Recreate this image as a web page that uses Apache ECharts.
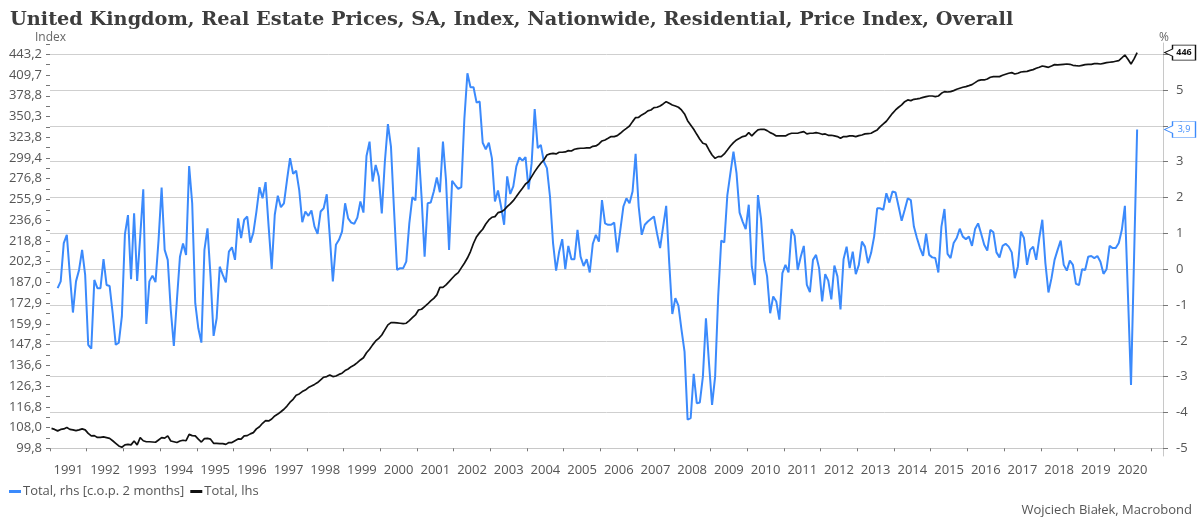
<!DOCTYPE html>
<html>
<head>
<meta charset="utf-8">
<script src="https://cdn.jsdelivr.net/npm/echarts@6/dist/echarts.min.js"></script>
<style>
  html, body { margin: 0; padding: 0; background: #fff; }
  #chart { width: 1201px; height: 517px; }
</style>
</head>
<body>
<div id="chart"></div>
<script>
// left axis (log scale) tick labels, bottom to top
const leftTicks = ['99,8', '108,0', '116,8', '126,3', '136,6', '147,8', '159,9', '172,9', '187,0', '202,3',
  '218,8', '236,6', '255,9', '276,8', '299,4', '323,8', '350,3', '378,8', '409,7', '443,2'];
const leftBottom = 99.8;
const leftTop = 443.2;
// right axis (%) tick labels
const rightTicks = [-5, -4, -3, -2, -1, 0, 1, 2, 3, 4, 5];
const years = [1991, 1992, 1993, 1994, 1995, 1996, 1997, 1998, 1999, 2000, 2001, 2002, 2003, 2004, 2005,
  2006, 2007, 2008, 2009, 2010, 2011, 2012, 2013, 2014, 2015, 2016, 2017, 2018, 2019, 2020];

// Total, lhs: monthly index from Jan 1991
const totalLhsStart = 0; // months after Jan 1991
const totalLhs = [
  107.6, 107.2, 106.6, 107.2, 107.4, 108.0, 107.2, 107.0, 106.7, 107.0, 107.4, 107.0,
  105.6, 104.6, 104.7, 104.0, 104.0, 104.2, 103.9, 103.6, 102.7, 101.7, 100.7, 100.2,
  101.1, 101.3, 101.1, 102.6, 101.1, 103.9, 102.7, 102.3, 102.3, 102.2, 102.1, 103.0,
  103.9, 103.7, 104.6, 102.6, 102.3, 102.0, 102.6, 102.9, 102.7, 105.2, 104.7, 104.6,
  103.3, 102.2, 103.5, 103.6, 103.3, 101.7, 101.7, 101.6, 101.6, 101.3, 102.0, 102.0,
  102.7, 103.4, 103.3, 104.6, 104.7, 105.4, 105.9, 107.4, 108.3, 109.7, 110.8, 110.7,
  111.5, 112.8, 113.6, 114.6, 115.7, 117.1, 118.8, 120.1, 122.0, 122.6, 123.7, 124.4,
  125.6, 126.3, 127.1, 128.0, 129.3, 130.6, 130.9, 131.7, 130.9, 131.2, 132.0, 132.6,
  133.9, 134.7, 135.9, 136.8, 138.0, 139.4, 140.6, 143.3, 145.2, 147.6, 149.8, 151.3,
  153.2, 156.2, 159.2, 160.6, 160.6, 160.4, 160.2, 160.0, 160.2, 161.8, 163.6, 165.3,
  168.4, 168.9, 170.6, 172.3, 174.3, 176.0, 178.3, 183.5, 183.5, 185.2, 187.5, 189.9,
  192.3, 194.0, 197.5, 201.0, 205.0, 210.1, 216.8, 222.3, 225.7, 228.6, 233.2, 236.8,
  239.2, 239.8, 243.4, 244.1, 245.9, 249.0, 251.6, 254.7, 258.7, 262.9, 266.9, 271.3,
  273.7, 279.0, 284.3, 289.0, 293.4, 297.1, 302.8, 304.0, 304.7, 304.0, 305.9, 305.9,
  306.3, 307.8, 307.4, 309.4, 310.2, 310.6, 310.6, 311.0, 311.0, 312.9, 313.3, 315.7,
  319.3, 320.5, 322.5, 324.6, 324.6, 325.8, 328.7, 332.0, 334.9, 337.9, 343.5, 348.8,
  349.2, 352.3, 354.5, 357.7, 359.0, 362.2, 362.7, 364.5, 367.3, 370.5, 368.2, 365.9,
  364.5, 362.7, 359.0, 353.6, 344.8, 339.2, 333.7, 327.4, 321.3, 316.5, 315.3, 308.6,
  302.8, 299.0, 300.9, 300.9, 304.0, 308.6, 313.3, 317.3, 320.5, 322.5, 324.6, 325.4,
  329.5, 325.4, 329.5, 332.9, 333.7, 333.7, 332.0, 329.5, 327.9, 325.4, 325.4, 325.4,
  325.4, 327.4, 328.7, 328.7, 328.7, 329.9, 330.8, 327.9, 328.7, 328.7, 329.5, 328.7,
  327.4, 327.9, 326.2, 326.2, 325.4, 324.6, 322.5, 324.6, 324.6, 325.4, 325.4, 324.6,
  325.8, 326.6, 327.9, 328.3, 328.7, 330.8, 332.9, 337.1, 340.5, 344.0, 349.2, 354.5,
  359.0, 362.7, 365.9, 370.5, 372.9, 371.9, 373.8, 374.3, 375.2, 376.6, 377.6, 378.5,
  378.5, 377.6, 378.5, 382.4, 384.8, 384.3, 384.8, 386.3, 388.2, 389.7, 391.2, 392.2,
  393.6, 395.1, 398.1, 401.2, 402.2, 402.2, 403.7, 406.3, 407.3, 407.3, 407.3, 409.3,
  410.9, 412.5, 413.5, 411.4, 412.5, 414.5, 415.0, 415.5, 417.1, 418.2, 420.3, 421.9,
  424.0, 423.0, 421.9, 424.0, 426.2, 425.7, 426.2, 426.7, 427.2, 426.7, 425.1, 424.5,
  424.0, 425.1, 426.2, 426.7, 426.7, 427.8, 427.8, 427.2, 428.3, 429.4, 430.0, 430.5,
  431.6, 432.7, 437.1, 442.0, 435.0, 427.2, 435.5, 446.0
];

// Total, rhs [c.o.p. 2 months]: % from Mar 1991
const totalRhsStart = 2;
const totalRhs = [
  -0.53, -0.34, 0.73, 0.96, -0.16, -1.21, -0.34, -0.02, 0.54, -0.16,
  -2.11, -2.22, -0.30, -0.53, -0.53, 0.28, -0.44, -0.47, -1.23, -2.11, -2.05, -1.32,
  0.98, 1.51, -0.28, 1.56, -0.33, 0.91, 2.23, -1.53, -0.34, -0.18, -0.36, 0.82,
  2.28, 0.54, 0.26, -1.14, -2.14, -0.86, 0.35, 0.72, 0.40, 2.88, 1.84, -0.95,
  -1.65, -2.05, 0.54, 1.14, -0.20, -1.86, -1.37, 0.07, -0.16, -0.37, 0.49, 0.61,
  0.26, 1.42, 0.87, 1.38, 1.47, 0.74, 1.02, 1.61, 2.29, 1.98, 2.43, 1.19,
  0.01, 1.52, 2.05, 1.73, 1.84, 2.49, 3.10, 2.66, 2.75, 2.21, 1.31, 1.61,
  1.49, 1.64, 1.19, 0.99, 1.61, 1.70, 2.09, 0.91, -0.34, 0.68, 0.82, 1.05,
  1.84, 1.42, 1.30, 1.27, 1.44, 1.89, 1.58, 3.16, 3.56, 2.45, 2.91, 2.59,
  1.56, 3.00, 4.05, 3.42, 1.66, -0.02, 0.03, 0.03, 0.21, 1.28, 2.01, 1.92,
  3.40, 2.03, 0.35, 1.84, 1.86, 2.17, 2.56, 2.15, 3.56, 2.49, 0.54, 2.47,
  2.35, 2.24, 2.29, 4.20, 5.47, 5.08, 5.08, 4.65, 4.68, 3.53, 3.35, 3.53,
  3.10, 1.89, 2.20, 1.75, 1.24, 2.59, 2.10, 2.31, 2.87, 3.12, 3.03, 3.13,
  2.23, 2.96, 4.47, 3.38, 3.47, 3.00, 2.82, 2.03, 0.73, -0.04, 0.49, 0.84,
  0.00, 0.65, 0.28, 0.28, 1.10, 0.35, 0.09, 0.28, -0.09, 0.71, 0.96, 0.77,
  1.93, 1.28, 1.24, 1.24, 1.30, 0.47, 1.10, 1.75, 1.98, 1.84, 2.17, 3.22,
  1.75, 0.96, 1.24, 1.33, 1.40, 1.47, 1.00, 0.59, 1.19, 1.77, 0.17, -1.25,
  -0.81, -1.02, -1.69, -2.30, -4.20, -4.16, -2.92, -3.74, -3.72, -3.00, -1.37, -2.62,
  -3.79, -3.00, -0.76, 0.80, 0.75, 2.07, 2.68, 3.28, 2.68, 1.58, 1.33, 1.12,
  1.80, 0.07, -0.44, 2.07, 1.42, 0.26, -0.20, -1.23, -0.76, -0.90, -1.41, -0.11,
  0.12, -0.09, 1.12, 0.93, -0.02, 0.35, 0.65, -0.44, -0.64, 0.26, 0.40, 0.03,
  -0.90, -0.14, -0.32, -0.84, 0.10, -0.20, -1.12, 0.28, 0.63, 0.03, 0.49, -0.14,
  0.12, 0.77, 0.63, 0.17, 0.45, 0.91, 1.70, 1.70, 1.66, 2.12, 1.86, 2.17,
  2.14, 1.75, 1.35, 1.66, 1.98, 1.93, 1.19, 0.87, 0.59, 0.37, 0.99, 0.40,
  0.33, 0.31, -0.09, 1.19, 1.68, 0.43, 0.31, 0.73, 0.87, 1.13, 0.91, 0.84,
  0.91, 0.65, 1.12, 1.28, 0.99, 0.68, 0.52, 1.10, 1.03, 0.47, 0.33, 0.65,
  0.71, 0.63, 0.47, -0.25, 0.07, 1.05, 0.87, 0.12, 0.54, 0.63, 0.26, 0.87,
  1.38, 0.17, -0.65, -0.25, 0.26, 0.54, 0.80, 0.12, -0.04, 0.24, 0.12, -0.41,
  -0.44, 0.00, -0.02, 0.35, 0.37, 0.31, 0.37, 0.21, -0.13, 0.00, 0.65, 0.59,
  0.59, 0.73, 1.10, 1.77, -0.72, -3.23, 0.33, 3.90
];

const blue = '#3b8afc';
const black = '#111111';
const labelFont = 'Open Sans';

// month index -> decimal year (points sit mid-month)
const monthX = (m) => years[0] + (m + 0.5) / 12;
// log axis: index value -> step count between left tick labels
const steps = leftTicks.length - 1;
const toU = (v) => Math.log(v / leftBottom) / Math.log(leftTop / leftBottom) * steps;

const rhsData = totalRhs.map((v, i) => [monthX(totalRhsStart + i), v]);
const lhsData = totalLhs.map((v, i) => [monthX(totalLhsStart + i), toU(v)]);

// right axis range, left axis shares the same pixel span
const rMin = -5.215, rMax = 6.315;
const scale = steps / (rightTicks.length);
const uMin = (rMin - rightTicks[0]) * scale;
const uMax = (rMax - rightTicks[0]) * scale;
const xMax = 2021.33;

const lastLhs = totalLhs[totalLhs.length - 1];
const lastRhs = totalRhs[totalRhs.length - 1];
const tagPath = 'path://M0,7.5L8,4L8,0L31,0L31,15L8,15L8,11Z';

const chart = echarts.init(document.getElementById('chart'));

const uTicks = [];
for (let u = 0; u <= steps + 0.5; u += 0.5) uTicks.push(u);

const option = {
  animation: false,
  backgroundColor: '#ffffff',
  title: {
    text: 'United Kingdom, Real Estate Prices, SA, Index, Nationwide, Residential, Price Index, Overall',
    left: 5,
    top: 5,
    textStyle: { fontFamily: 'DejaVu Serif', fontWeight: 'bold', fontSize: 19.3, color: '#3d3d3d' }
  },
  graphic: [
    { type: 'text', left: 35, top: 32, style: { text: 'Index', font: '12px "Open Sans"', fill: '#666' } },
    { type: 'text', left: 1159, top: 32, style: { text: '%', font: '12px "Open Sans"', fill: '#666' } },
    { type: 'text', right: 9, top: 504, style: { text: 'Wojciech Białek, Macrobond', font: '13px "Open Sans"', fill: '#555' } }
  ],
  legend: {
    left: 9,
    top: 485,
    padding: 0,
    itemGap: 6,
    itemWidth: 12,
    itemHeight: 3,
    icon: 'rect',
    textStyle: { fontFamily: labelFont, fontSize: 13, color: '#555', padding: [0, 0, 0, -3] },
    data: ['Total, rhs [c.o.p. 2 months]', 'Total, lhs']
  },
  grid: { left: 50, top: 43, width: 1113, height: 413 },
  xAxis: {
    type: 'value',
    min: years[0],
    max: xMax,
    axisLine: { show: true, lineStyle: { color: '#c8c8c8', width: 1 } },
    axisTick: {
      show: true, length: 3, lineStyle: { color: '#777' },
      customValues: years.concat([years[years.length - 1] + 1])
    },
    axisLabel: {
      customValues: years.map(y => y + 0.5),
      formatter: (v) => String(Math.floor(v)),
      fontFamily: labelFont, fontSize: 13, color: '#555', margin: 8
    },
    splitLine: { show: false }
  },
  yAxis: [
    {
      type: 'value',
      position: 'left',
      min: uMin,
      max: uMax,
      axisLine: { show: false },
      axisTick: { show: true, length: 4, lineStyle: { color: '#777' }, customValues: uTicks },
      axisLabel: {
        customValues: leftTicks.map((t, i) => i),
        formatter: (v) => leftTicks[Math.round(v)],
        fontFamily: labelFont, fontSize: 13, color: '#555', margin: 8
      },
      splitLine: { show: false }
    },
    {
      type: 'value',
      position: 'right',
      min: rMin,
      max: rMax,
      axisLine: { show: true, lineStyle: { color: '#c8c8c8', width: 1 } },
      axisTick: {
        show: true, length: 5, lineStyle: { color: '#777' },
        customValues: rightTicks.concat([rightTicks[rightTicks.length - 1] + 1])
      },
      axisLabel: {
        customValues: rightTicks,
        formatter: (v) => String(v),
        fontFamily: labelFont, fontSize: 13, color: '#555', margin: 13
      },
      splitLine: { show: true, lineStyle: { color: '#cfcfcf', width: 1 } }
    }
  ],
  series: [
    {
      name: 'Total, rhs [c.o.p. 2 months]',
      type: 'line',
      yAxisIndex: 1,
      data: rhsData,
      showSymbol: false,
      clip: false,
      lineStyle: { color: blue, width: 2 },
      itemStyle: { color: blue },
      markPoint: {
        silent: true,
        data: [{ coord: [xMax, lastRhs], value: lastRhs }],
        symbol: tagPath,
        symbolSize: [31, 16],
        symbolOffset: [17, 0],
        itemStyle: { color: '#fff', borderColor: blue, borderWidth: 1 },
        label: {
          show: true, position: 'inside', offset: [4, 0],
          formatter: () => lastRhs.toFixed(1).replace('.', ','),
          color: blue, fontFamily: labelFont, fontSize: 9
        }
      }
    },
    {
      name: 'Total, lhs',
      type: 'line',
      yAxisIndex: 0,
      data: lhsData,
      showSymbol: false,
      clip: false,
      lineStyle: { color: black, width: 1.7 },
      itemStyle: { color: black },
      markPoint: {
        silent: true,
        data: [{ coord: [xMax, toU(lastLhs)], value: lastLhs }],
        symbol: tagPath,
        symbolSize: [31, 15],
        symbolOffset: [17, 0],
        itemStyle: { color: '#fff', borderColor: black, borderWidth: 1 },
        label: {
          show: true, position: 'inside', offset: [4, 0],
          formatter: () => String(Math.round(lastLhs)),
          color: black, fontFamily: labelFont, fontSize: 9, fontWeight: 'bold'
        }
      }
    }
  ]
};

chart.setOption(option);
</script>
</body>
</html>
